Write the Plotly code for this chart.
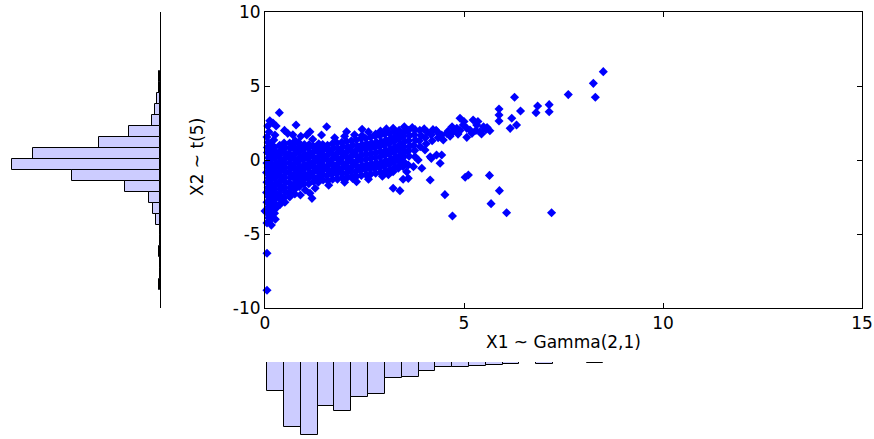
import plotly.graph_objects as go

W, H = 874, 439


def px_x(px):
    return px / W


def px_y(py):
    return 1 - py / H


# ---------------- scatter data (X1 ~ Gamma(2,1), X2 ~ t(5)) ----------------
left_column = [
    (0.05, -4.25), (0.09, -3.9), (0.04, -3.55), (0.08, -3.2), (0.05, -2.85), (0.09, -2.5),
    (0.04, -2.2), (0.08, -1.85), (0.05, -1.5), (0.09, -1.2), (0.04, -0.85), (0.08, -0.5),
    (0.05, -0.2), (0.09, 0.15), (0.06, 0.5),
    (0.16, -4.4), (0.13, -4.05), (0.18, -3.7), (0.14, -3.35), (0.18, -3.0), (0.15, -2.7),
    (0.19, -2.35), (0.14, -2.0), (0.17, -1.7), (0.15, -1.35), (0.19, -1.0), (0.14, -0.7),
    (0.18, -0.35), (0.15, 0.0), (0.19, 0.3), (0.14, 0.65), (0.17, 1.0),
    (0.26, -4.0), (0.24, -3.6), (0.28, -3.25), (0.24, -2.9), (0.28, -2.55), (0.25, -2.2),
    (0.23, -1.9), (0.28, -1.55), (0.25, -1.2), (0.27, -0.85), (0.24, -0.55), (0.28, -0.2),
    (0.25, 0.15), (0.27, 0.5), (0.24, 0.85),
]

core_cloud = [
    (0.38, -3.0), (0.40, -2.7), (0.36, -2.35), (0.39, -2.0), (0.37, -1.7), (0.40, -1.35), (0.36, -1.0),
    (0.39, -0.7), (0.37, -0.35), (0.40, 0.0), (0.36, 0.3), (0.39, 0.65), (0.37, 1.0),
    (0.50, -2.85), (0.48, -2.55), (0.52, -2.2), (0.49, -1.85), (0.51, -1.5), (0.48, -1.2), (0.52, -0.85),
    (0.50, -0.5), (0.48, -0.2), (0.52, 0.15), (0.49, 0.5), (0.51, 0.85), (0.48, 1.15),
    (0.62, -2.5), (0.60, -2.2), (0.64, -1.9), (0.61, -1.55), (0.63, -1.2), (0.60, -0.85), (0.64, -0.55),
    (0.61, -0.2), (0.63, 0.1), (0.60, 0.45), (0.64, 0.8), (0.62, 1.15),
    (0.74, -2.0), (0.72, -1.65), (0.76, -1.3), (0.73, -1.0), (0.75, -0.65), (0.72, -0.3), (0.76, 0.0),
    (0.73, 0.35), (0.75, 0.7), (0.72, 1.05), (0.76, 1.3),
    (0.86, -1.8), (0.84, -1.45), (0.88, -1.1), (0.85, -0.8), (0.87, -0.45), (0.84, -0.1), (0.88, 0.2),
    (0.85, 0.55), (0.87, 0.9), (0.84, 1.2),
    (0.98, -1.6), (0.96, -1.3), (1.00, -0.95), (0.97, -0.6), (0.99, -0.3), (0.96, 0.05), (1.00, 0.4),
    (0.97, 0.75), (0.99, 1.05),
    (1.10, -1.6), (1.08, -1.25), (1.12, -0.9), (1.09, -0.55), (1.11, -0.2), (1.08, 0.1), (1.12, 0.45),
    (1.09, 0.8), (1.11, 1.05),
    (1.22, -1.45), (1.20, -1.1), (1.24, -0.75), (1.21, -0.4), (1.23, -0.1), (1.20, 0.25), (1.24, 0.6),
    (1.21, 0.95),
    (1.34, -1.5), (1.32, -1.2), (1.36, -0.85), (1.33, -0.5), (1.35, -0.15), (1.32, 0.15), (1.36, 0.5),
    (1.33, 0.85), (1.35, 1.1),
    (1.46, -1.35), (1.44, -1.0), (1.48, -0.65), (1.45, -0.35), (1.47, 0.0), (1.44, 0.35), (1.48, 0.7),
    (1.45, 1.05),
    (1.58, -1.4), (1.56, -1.05), (1.60, -0.7), (1.57, -0.4), (1.59, -0.05), (1.56, 0.3), (1.60, 0.65),
    (1.57, 1.0),
    (1.70, -1.3), (1.68, -0.95), (1.72, -0.6), (1.69, -0.25), (1.71, 0.1), (1.68, 0.45), (1.72, 0.8),
    (1.69, 1.1),
    (1.82, -1.3), (1.80, -0.95), (1.84, -0.6), (1.81, -0.3), (1.83, 0.05), (1.80, 0.4), (1.84, 0.75),
    (1.81, 1.15),
    (1.94, -1.2), (1.92, -0.85), (1.96, -0.5), (1.93, -0.15), (1.95, 0.2), (1.92, 0.55), (1.96, 0.9),
    (1.93, 1.2),
    (2.06, -1.2), (2.04, -0.9), (2.08, -0.55), (2.05, -0.2), (2.07, 0.15), (2.04, 0.5), (2.08, 0.85),
    (2.05, 1.25),
    (2.18, -1.1), (2.16, -0.75), (2.20, -0.4), (2.17, -0.05), (2.19, 0.3), (2.16, 0.65), (2.20, 1.0),
    (2.17, 1.3),
    (2.30, -1.1), (2.28, -0.8), (2.32, -0.45), (2.29, -0.1), (2.31, 0.25), (2.28, 0.6), (2.32, 0.95),
    (2.29, 1.35),
    (2.42, -1.05), (2.40, -0.7), (2.44, -0.35), (2.41, 0.0), (2.43, 0.35), (2.40, 0.7), (2.44, 1.05),
    (2.41, 1.45),
    (2.54, -1.0), (2.52, -0.65), (2.56, -0.3), (2.53, 0.05), (2.55, 0.4), (2.52, 0.75), (2.56, 1.1),
    (2.53, 1.45),
    (2.66, -0.95), (2.64, -0.6), (2.68, -0.25), (2.65, 0.1), (2.67, 0.45), (2.64, 0.8), (2.68, 1.15),
    (2.65, 1.55),
    (2.78, -0.9), (2.76, -0.55), (2.80, -0.2), (2.77, 0.15), (2.79, 0.5), (2.76, 0.85), (2.80, 1.2),
    (2.77, 1.6),
    (2.90, -0.85), (2.88, -0.5), (2.92, -0.15), (2.89, 0.2), (2.91, 0.55), (2.88, 0.9), (2.92, 1.25),
    (2.89, 1.65),
    (3.02, -0.75), (3.00, -0.4), (3.04, -0.05), (3.01, 0.3), (3.03, 0.65), (3.00, 1.0), (3.04, 1.35),
    (3.01, 1.75),
    (3.14, -0.65), (3.12, -0.3), (3.16, 0.05), (3.13, 0.4), (3.15, 0.75), (3.12, 1.1), (3.16, 1.45),
    (3.13, 1.8),
    (3.26, -0.5), (3.24, -0.15), (3.28, 0.2), (3.25, 0.55), (3.27, 0.9), (3.24, 1.25), (3.28, 1.6),
    (3.25, 1.9),
    (3.38, -0.35), (3.36, 0.0), (3.40, 0.35), (3.37, 0.7), (3.39, 1.05), (3.36, 1.4), (3.40, 1.75),
    (3.37, 2.0),
    (3.50, -0.15), (3.48, 0.2), (3.52, 0.55), (3.49, 0.9), (3.51, 1.25), (3.48, 1.6), (3.52, 1.95),
    (3.62, 0.25), (3.60, 0.6), (3.64, 0.95), (3.61, 1.3), (3.63, 1.65), (3.60, 2.0),
    (3.76, 0.65), (3.74, 1.0), (3.78, 1.35), (3.75, 1.7), (3.77, 2.05),
    (3.90, 0.9), (3.88, 1.3), (3.92, 1.65), (3.89, 2.0),
    (4.05, 1.1), (4.03, 1.5), (4.07, 1.9),
    (4.20, 1.3), (4.18, 1.7), (4.22, 2.05),
    (4.35, 1.5), (4.33, 1.9),
]

upper_scatter = [
    (0.36, 3.2), (0.12, 2.65), (0.20, 2.5), (0.28, 2.3), (0.07, 2.3), (0.10, 1.9), (0.05, 1.55),
    (0.08, 1.2), (0.06, 0.85), (0.25, 1.69), (0.22, 1.35), (0.49, 2.0), (0.57, 1.8), (0.78, 2.36),
    (0.70, 1.7), (0.90, 1.6), (1.05, 1.69), (1.13, 1.91), (1.20, 1.4), (1.42, 1.69), (1.55, 2.25),
    (1.75, 1.5), (2.05, 1.91), (2.00, 1.6), (2.25, 1.7), (2.44, 2.07), (2.44, 1.65), (2.60, 1.9),
    (2.78, 1.75), (2.90, 1.95), (3.05, 2.1), (3.22, 2.14), (3.50, 2.25),
]

right_band = [
    (3.70, 2.2), (4.00, 2.1), (4.30, 2.0), (4.60, 1.95), (4.44, 1.69), (4.48, 1.35), (4.57, 1.80),
    (4.73, 1.91), (4.82, 2.14), (4.90, 2.82), (4.98, 2.36), (5.07, 2.14), (5.07, 1.53), (5.15, 2.03),
    (5.23, 2.70), (5.32, 2.36), (5.40, 1.91), (5.49, 2.25), (5.44, 1.76), (5.65, 1.98), (5.58, 2.2),
    (5.00, 2.6), (5.30, 2.0), (4.85, 1.75), (4.65, 1.6), (4.90, 2.0), (5.20, 1.8), (5.55, 2.05),
    (5.35, 2.6), (4.70, 2.25),
]

upper_right = [
    (5.88, 3.45), (5.88, 3.04), (5.88, 2.64), (6.27, 4.24), (6.42, 3.31), (6.20, 2.82), (6.32, 2.36),
    (6.16, 2.14), (6.85, 3.65), (6.81, 3.20), (7.14, 3.74), (7.14, 3.26), (7.62, 4.42), (8.25, 5.18),
    (8.30, 4.24), (8.50, 5.97),
]

lower_scatter = [
    (0.05, -6.3), (0.05, -8.8), (0.00, -3.45),
    (0.89, -2.36), (1.18, -2.59), (1.26, -1.91), (1.01, -2.03), (1.13, -2.25), (0.75, -2.3),
    (1.60, -1.7), (2.20, -1.25), (2.30, -1.47), (2.60, -1.3), (2.00, -1.5),
    (3.22, -1.91), (3.39, -2.07), (3.47, -1.30), (3.60, -1.24), (3.22, -0.79), (3.35, -0.56),
    (3.60, -0.34), (3.47, -0.45), (3.73, -0.45), (3.77, 0.22), (3.85, 0.0), (3.94, -0.56),
    (4.02, 0.68), (4.18, 0.11), (4.31, 0.34), (4.15, 0.22), (4.40, -0.22), (4.44, 0.34),
    (4.15, -1.35), (3.10, -1.0), (2.95, -1.1), (3.56, -0.79),
    (4.52, -2.34), (4.71, -3.78), (5.03, -1.17), (5.11, -1.01), (5.64, -1.04), (5.89, -2.07),
    (5.68, -2.95), (6.07, -3.56), (7.20, -3.56),
]

# ---------------- marginal histograms ----------------
x1_bin_centers = [0.269, 0.691, 1.113, 1.535, 1.957, 2.379, 2.802, 3.224, 3.646, 4.068,
                  4.490, 4.912, 5.334, 5.757, 6.179, 6.601, 7.023, 7.445, 7.867, 8.289]
x1_counts = [61, 138, 155, 93, 103, 74, 68, 34, 32, 20, 11, 10, 8, 6, 4, 1, 4, 0, 0, 3]
x1_bin_width = 0.422

x2_bin_centers = [5.63, 4.89, 4.15, 3.41, 2.67, 1.93, 1.19, 0.45, -0.29, -1.03,
                  -1.77, -2.51, -3.25, -3.99, -4.73, -5.47, -6.21, -6.95, -7.69, -8.43]
x2_counts = [1, 1, 5, 9, 16, 62, 120, 250, 292, 173, 70, 21, 13, 7, 0, 0, 1, 0, 0, 1]
x2_bin_width = 0.74

x_ticks = [0, 5, 10, 15]
x_tick_labels = ["0", "5", "10", "15"]
y_ticks = [-10, -5, 0, 5, 10]
y_tick_labels = ["-10", "-5", "0", "5", "10"]

points = left_column + core_cloud + upper_scatter + right_band + upper_right + lower_scatter
x1 = [p[0] for p in points]
x2 = [p[1] for p in points]

BAR_FILL = "rgb(204,204,255)"
FONT = dict(family="DejaVu Sans", size=17, color="black")

fig = go.Figure()

fig.add_trace(go.Scatter(
    x=x1, y=x2, mode="markers", xaxis="x", yaxis="y",
    marker=dict(symbol="diamond", size=7, color="#0000ff", line=dict(width=0)),
    hoverinfo="x+y", cliponaxis=False,
))

fig.add_trace(go.Bar(
    x=x2_counts, y=x2_bin_centers, orientation="h", width=x2_bin_width,
    xaxis="x2", yaxis="y2",
    marker=dict(color=BAR_FILL, line=dict(color="black", width=1)),
))

fig.add_trace(go.Bar(
    x=x1_bin_centers, y=x1_counts, width=x1_bin_width,
    xaxis="x3", yaxis="y3",
    marker=dict(color=BAR_FILL, line=dict(color="black", width=1)),
))

main_x_dom = [px_x(265), px_x(862)]
main_y_dom = [px_y(308), px_y(12)]

axis_common = dict(showline=True, linecolor="black", linewidth=1, mirror="ticks",
                   ticks="inside", ticklen=5, tickcolor="black", tickwidth=1,
                   showgrid=False, zeroline=False, tickfont=FONT, automargin=False)

fig.update_layout(
    width=W, height=H, autosize=False,
    margin=dict(l=0, r=0, t=0, b=0, pad=0),
    paper_bgcolor="white", plot_bgcolor="white",
    showlegend=False, bargap=0,
    xaxis=dict(domain=main_x_dom, range=[0, 15], tickvals=x_ticks, ticktext=x_tick_labels,
               anchor="y", **axis_common),
    yaxis=dict(domain=main_y_dom, range=[-10, 10], tickvals=y_ticks, ticktext=y_tick_labels,
               anchor="x", **axis_common),
    xaxis2=dict(domain=[0, px_x(160)], range=[316, 0], visible=False, anchor="y2",
                automargin=False),
    yaxis2=dict(domain=main_y_dom, range=[-10, 10], anchor="x2", side="right",
                showline=True, linecolor="black", linewidth=1, ticks="",
                showticklabels=False, showgrid=False, zeroline=False, automargin=False),
    xaxis3=dict(domain=main_x_dom, range=[0, 15], visible=False, anchor="y3", automargin=False),
    yaxis3=dict(domain=[0, px_y(362)], range=[155 * (439 - 362) / 73, 0], visible=False,
                anchor="x3", automargin=False),
    annotations=[
        dict(text="X1 ~ Gamma(2,1)", x=px_x(563.5), y=px_y(342), xref="paper", yref="paper",
             xanchor="center", yanchor="middle", showarrow=False, font=FONT),
        dict(text="X2 ~ t(5)", x=px_x(197), y=px_y(157), xref="paper", yref="paper",
             xanchor="center", yanchor="middle", showarrow=False, textangle=-90, font=FONT),
    ],
)

# Remove the page's default body margin so the 874x439 figure fills the window exactly.
fig.write_html(
    "out.html",
    config={"displayModeBar": False},
    post_script="document.body.style.margin='0';document.body.style.overflow='hidden';",
)
